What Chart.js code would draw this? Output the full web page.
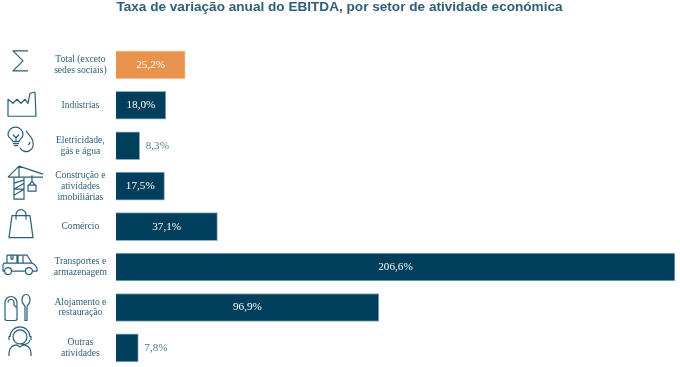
<!DOCTYPE html>
<html>
<head>
<meta charset="utf-8">
<script src="https://cdn.jsdelivr.net/npm/chart.js@4"></script>
<style>
html, body { margin: 0; padding: 0; background: #fff; overflow: hidden; }
canvas { display: block; }
</style>
</head>
<body>
<canvas id="chart" width="680" height="388"></canvas>
<script>
const chartTitle = 'Taxa de variação anual do EBITDA, por setor de atividade económica';
const categories = [
    ['Total (exceto', 'sedes sociais)'],
    'Indústrias',
    ['Eletricidade,', 'gás e água'],
    ['Construção e', 'atividades', 'imobiliárias'],
    'Comércio',
    ['Transportes e', 'armazenagem'],
    ['Alojamento e', 'restauração'],
    ['Outras', 'atividades']
];
const values = [25.2, 18.0, 8.3, 17.5, 37.1, 206.6, 96.9, 7.8];
const barColors = ['#e8934b', '#003f5c', '#003f5c', '#003f5c', '#003f5c', '#003f5c', '#003f5c', '#003f5c'];
const borderColors = ['#f6cda6', '#8fb0c2', '#8fb0c2', '#8fb0c2', '#8fb0c2', '#8fb0c2', '#8fb0c2', '#8fb0c2'];

// icones desenhados à volta do centro de cada linha (dx = centro horizontal)
const icons = [
    { dx: 21, path: 'M7-14H-8L2-4-8 6H7' },
    { dx: 22, path: 'M-14 11V-6L-9-2-5-6-1-2 3-6 6-2 8-12 13-13 14 11Z' },
    { dx: 20, path: 'M-7-4C-7-6-12-8-12-11A7.5 7.5 0 0 1 3-11C3-8-1-6-1-4Z M-7-2H-1 M-6 0H-2 M-7-11-4-8-1-11 M-4-8V-4 M6-15C9-10 13-8 13-3A7 7 0 0 1 0 2 M8-1A3 3 0 0 0 10-4' },
    { dx: 25, path: 'M-17-9H18 M-17-9-6-20 18-12 M-6-20V-9 M-11-9V13H-1V-9 M-11-3-1-6 M-11 3-1-3 M-11 3H-1 M-11 9-1 3 M7-11V-5 M4-1 7-5 10-1 M3-1H11V5H3Z' },
    { dx: 21, path: 'M-9-11H9L12 11H-12Z M-5-7V-12A5 5 0 0 1 5-12V-7' },
    { dx: 20, path: 'M-13-4V-12H-3V-4 M-9-12V-8H-7V-12 M-16-4H-2V-12H7L12-4 15-2 17 1V4H13 M5 4H-8 M-16 4H-17V-2L-16-4 M-2-4H12 M3-11V-4 M-8.5 4A3.5 3.5 0 1 1-15.5 4A3.5 3.5 0 1 1-8.5 4Z M12.5 4A3.5 3.5 0 1 1 5.5 4A3.5 3.5 0 1 1 12.5 4Z' },
    { dx: 17, path: 'M-12-5A6 6 0 0 1 0-5V11Q0 13-2 13H-10Q-12 13-12 11Z M-9-5A3 3 0 0 1-3-5V-2L0 0 M9-13C6-13 5-10 5-7 5-4 7-3 8-1V13H10V-1C11-3 13-4 13-7 13-10 12-13 9-13Z' },
    { dx: 20, path: 'M-7-11A7 7 0 0 1 7-11A7 7 0 0 1-7-11Z M-10-11A10 10 0 0 1 10-11 M-11-12V-8 M11-12V-8 M-11 8V5C-11 0-7-3-3-3L0-1 3-3C7-3 11 0 11 5V8 M10-8C9-4 5-3 1-4' }
];

const iconPlugin = {
    id: 'iconPlugin',
    afterDatasetsDraw(chart) {
        const ctx = chart.ctx;
        const y = chart.scales.y;
        ctx.save();
        ctx.strokeStyle = '#2a5f7a';
        ctx.lineWidth = 1.2;
        ctx.lineJoin = 'round';
        icons.forEach((icon, i) => {
            ctx.save();
            ctx.translate(icon.dx, y.getPixelForValue(i));
            ctx.stroke(new Path2D(icon.path));
            ctx.restore();
        });
        ctx.restore();
    }
};

const valueLabels = {
    id: 'valueLabels',
    afterDatasetsDraw(chart) {
        const ctx = chart.ctx;
        const meta = chart.getDatasetMeta(0);
        ctx.save();
        ctx.font = '11.2px "Liberation Serif"';
        ctx.textBaseline = 'middle';
        meta.data.forEach((bar, i) => {
            const text = values[i].toFixed(1).replace('.', ',') + '%';
            if (values[i] > 10) {
                ctx.fillStyle = '#ffffff';
                ctx.textAlign = 'center';
                ctx.fillText(text, (bar.base + bar.x) / 2, bar.y);
            } else {
                ctx.fillStyle = '#4f7d94';
                ctx.textAlign = 'left';
                ctx.fillText(text, bar.x + 6, bar.y);
            }
        });
        ctx.restore();
    }
};

new Chart(document.getElementById('chart'), {
    type: 'bar',
    data: {
        labels: categories,
        datasets: [{
            data: values,
            base: -0.48,
            backgroundColor: barColors,
            borderColor: borderColors,
            borderWidth: 1,
            barThickness: 28
        }]
    },
    options: {
        indexAxis: 'y',
        responsive: false,
        animation: false,
        layout: { padding: { top: 0, right: 5, bottom: 3, left: 4 } },
        plugins: {
            legend: { display: false },
            tooltip: { enabled: false },
            title: {
                display: true,
                text: chartTitle,
                color: '#2f5f78',
                font: { family: '"Liberation Sans"', size: 13.6, weight: 'bold', lineHeight: 1 },
                padding: { top: 0, bottom: 31 }
            }
        },
        scales: {
            x: { display: false, min: -0.48, max: 206.6 },
            y: {
                afterFit: (scale) => { scale.width = 112; },
                grid: { display: false, drawTicks: false },
                border: { display: false },
                ticks: {
                    autoSkip: false,
                    crossAlign: 'center',
                    padding: 9,
                    color: '#2f5f78',
                    font: { family: '"Liberation Serif"', size: 9.6, lineHeight: 1.13 }
                }
            }
        }
    },
    plugins: [iconPlugin, valueLabels]
});
</script>
</body>
</html>
